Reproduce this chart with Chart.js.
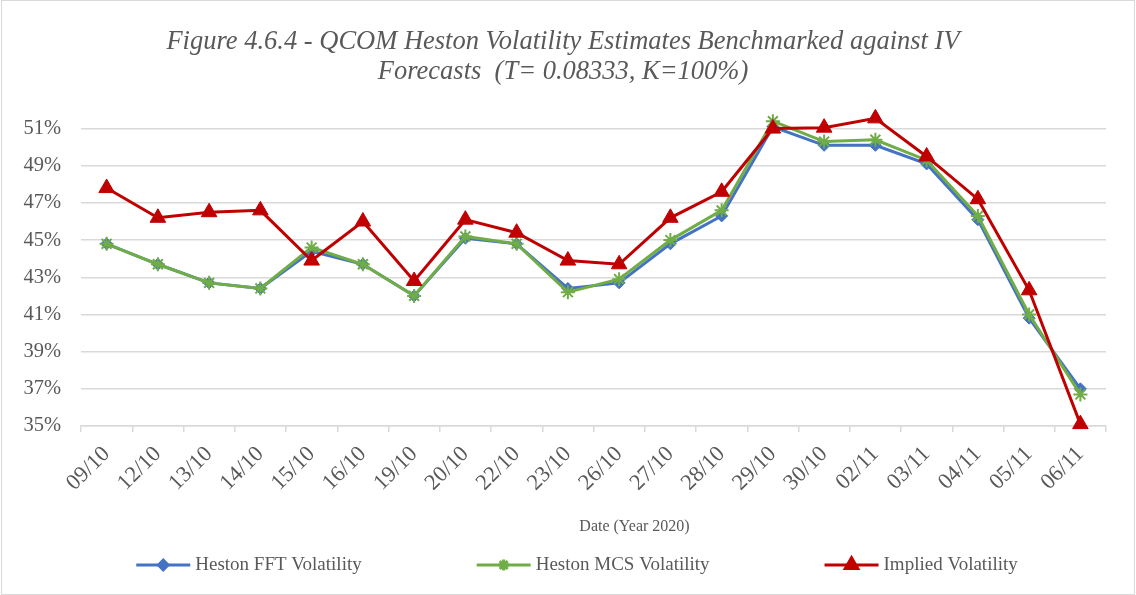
<!DOCTYPE html>
<html>
<head>
<meta charset="utf-8">
<script src="https://cdn.jsdelivr.net/npm/chart.js@4/dist/chart.umd.min.js"></script>
<style>
  html, body { margin: 0; padding: 0; background: #fff; }
  #wrap { width: 1136px; height: 595px; position: relative; }
</style>
</head>
<body>
<div id="wrap"><canvas id="chart"></canvas></div>
<script>
// dates (Year 2020)
const labels = ['09/10', '12/10', '13/10', '14/10', '15/10', '16/10', '19/10', '20/10', '22/10', '23/10',
  '26/10', '27/10', '28/10', '29/10', '30/10', '02/11', '03/11', '04/11', '05/11', '06/11'];

// volatility values, in %
const fftVol = [44.8, 43.7, 42.7, 42.4, 44.4, 43.7, 42.0, 45.1, 44.8, 42.4,
  42.7, 44.8, 46.3, 51.1, 50.1, 50.1, 49.1, 46.1, 40.8, 37.0];
const mcsVol = [44.8, 43.7, 42.7, 42.4, 44.6, 43.7, 42.0, 45.2, 44.8, 42.2,
  42.9, 45.0, 46.6, 51.4, 50.3, 50.4, 49.3, 46.3, 41.0, 36.7];
const impliedVol = [47.8, 46.2, 46.5, 46.6, 43.9, 46.0, 42.8, 46.1, 45.4, 43.9,
  43.7, 46.2, 47.6, 51.0, 51.05, 51.55, 49.5, 47.2, 42.3, 35.1];

// y tick values (%); the axis runs a bit above the last one so the top markers still show
const yTickValues = [35, 37, 39, 41, 43, 45, 47, 49, 51];
const yMin = 35, yMax = 52;

const grey = '#595959';
const gridGrey = '#d9d9d9';
const serif = "'Liberation Serif', 'Times New Roman', serif";

// white background + thin frame round the whole chart
const frame = {
  id: 'frame',
  beforeDraw(chart) {
    const ctx = chart.ctx;
    ctx.save();
    ctx.fillStyle = '#fff';
    ctx.fillRect(0, 0, chart.width, chart.height);
    ctx.strokeStyle = gridGrey;
    ctx.lineWidth = 1;
    ctx.strokeRect(1.5, 0.5, chart.width - 3, chart.height - 1);
    ctx.restore();
  }
};

// axis title (sits a little right of centre) and excel-like legend
const extras = {
  id: 'extras',
  afterDraw(chart) {
    const ctx = chart.ctx;
    const area = chart.chartArea;
    ctx.save();
    ctx.fillStyle = grey;
    ctx.textBaseline = 'middle';
    ctx.textAlign = 'center';
    ctx.font = '16px ' + serif;
    ctx.fillText('Date (Year 2020)', (area.left + area.right) / 2 + 41, 527);

    const sets = chart.data.datasets;
    const lineLen = 54, gap = 5, itemGap = 115;
    ctx.font = '19px ' + serif;
    let widths = sets.map(ds => lineLen + gap + ctx.measureText(ds.label).width);
    let total = widths.reduce((a, b) => a + b, 0) + itemGap * (sets.length - 1);
    let x = chart.width / 2 + 9 - total / 2;
    const y = 565;
    sets.forEach((ds, i) => {
      ctx.strokeStyle = ds.borderColor;
      ctx.lineWidth = 3;
      ctx.beginPath();
      ctx.moveTo(x, y);
      ctx.lineTo(x + lineLen, y);
      ctx.stroke();
      ctx.fillStyle = ds.pointBackgroundColor;
      ctx.strokeStyle = ds.pointBorderColor;
      Chart.helpers.drawPoint(ctx, {
        pointStyle: ds.pointStyle, rotation: 0,
        radius: ds.pointRadius * 0.8, borderWidth: ds.pointBorderWidth
      }, x + lineLen / 2, y);
      ctx.fillStyle = grey;
      ctx.textAlign = 'left';
      ctx.fillText(ds.label, x + lineLen + gap, y);
      x += widths[i] + itemGap;
    });
    ctx.restore();
  }
};

new Chart(document.getElementById('chart'), {
  type: 'line',
  data: {
    labels: labels,
    datasets: [{
      label: 'Heston FFT Volatility',
      data: fftVol,
      borderColor: '#4472C4',
      backgroundColor: '#4472C4',
      pointBackgroundColor: '#4472C4',
      pointBorderColor: '#4472C4',
      pointStyle: 'rectRot',
      pointRadius: 6,
      pointBorderWidth: 1,
      borderWidth: 3,
      order: 2
    }, {
      label: 'Heston MCS Volatility',
      data: mcsVol,
      borderColor: '#70AD47',
      backgroundColor: '#70AD47',
      pointBackgroundColor: '#70AD47',
      pointBorderColor: '#70AD47',
      pointStyle: 'star',
      pointRadius: 7,
      pointBorderWidth: 2,
      borderWidth: 3,
      order: 1
    }, {
      label: 'Implied Volatility',
      data: impliedVol,
      borderColor: '#C00000',
      backgroundColor: '#C00000',
      pointBackgroundColor: '#C00000',
      pointBorderColor: '#C00000',
      pointStyle: 'triangle',
      pointRadius: 9,
      pointBorderWidth: 1,
      borderWidth: 3,
      order: 0
    }]
  },
  options: {
    responsive: true,
    maintainAspectRatio: false,
    animation: false,
    clip: false,
    layout: { padding: { top: 0, right: 30, left: 20, bottom: 0 } },
    plugins: {
      legend: { display: false },
      tooltip: { enabled: false },
      title: {
        display: true,
        text: ['Figure 4.6.4 - QCOM Heston Volatility Estimates Benchmarked against IV',
          'Forecasts  (T= 0.08333, K=100%)'],
        color: grey,
        font: { family: serif, size: 26.5, style: 'italic', weight: 'normal', lineHeight: 1.132 },
        padding: { top: 27, bottom: 23 }
      }
    },
    scales: {
      x: {
        offset: true,
        grid: { offset: true, drawOnChartArea: false, drawTicks: true, tickLength: 6, color: gridGrey, lineWidth: 1.5 },
        border: { display: true, color: gridGrey, width: 1.5 },
        ticks: {
          color: grey, font: { family: serif, size: 22.5 },
          minRotation: 45, maxRotation: 45, autoSkip: false, padding: 9
        },
        afterFit(scale) { scale.height = 169; }
      },
      y: {
        min: yMin, max: yMax,
        grid: { color: gridGrey, lineWidth: 1.5, drawTicks: false },
        border: { display: false },
        ticks: {
          color: grey, font: { family: serif, size: 20.5 }, padding: 20,
          callback: v => v + '%'
        },
        afterBuildTicks(scale) { scale.ticks = yTickValues.map(v => ({ value: v })); },
        afterFit(scale) { scale.width = 61; }
      }
    }
  },
  plugins: [frame, extras]
});
</script>
</body>
</html>
